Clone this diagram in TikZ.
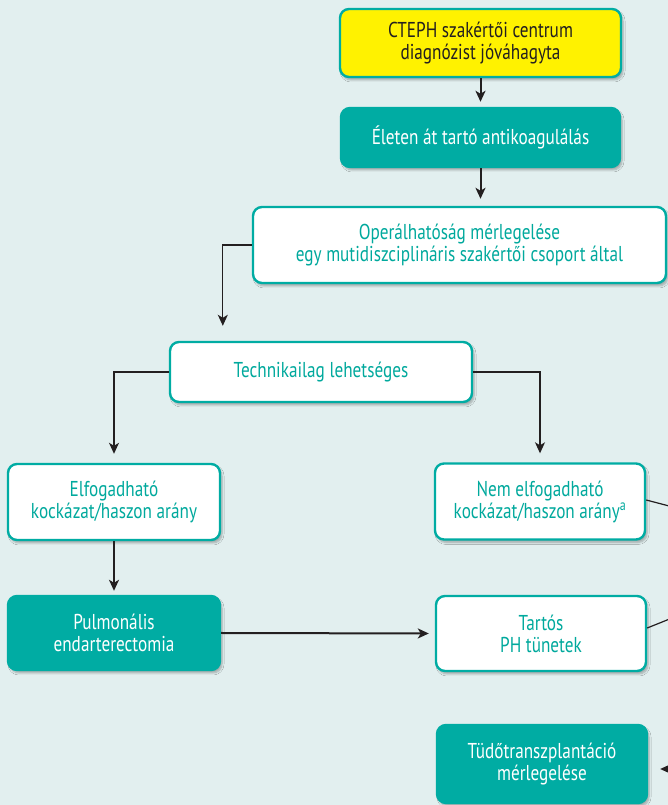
\documentclass[tikz,border=0pt]{standalone}
\usepackage{fontspec}
\setmainfont[FakeStretch=0.8]{PT Sans}
\usetikzlibrary{arrows.meta,shadows.blur}

\definecolor{bgcol}{HTML}{E2EFEF}
\definecolor{boxteal}{HTML}{00ACA3}
\definecolor{tealtext}{HTML}{00A99D}
\definecolor{hlyellow}{HTML}{FFF200}
\definecolor{ink}{HTML}{231F20}

\tikzset{
  x=1pt, y=1pt,
  box/.style={rounded corners=9pt, line width=2.4pt, draw=boxteal, align=center,
    inner sep=0pt, font=\fontsize{21.5}{22}\selectfont,
    blur shadow={shadow xshift=2pt, shadow yshift=-3pt, shadow opacity=30, shadow blur steps=6}},
  openbox/.style={box, fill=white, text=tealtext},
  filledbox/.style={box, fill=boxteal, text=white},
  yellowbox/.style={box, fill=hlyellow, text=ink},
  conn/.style={draw=ink, line width=1.2pt, -{Stealth[length=11pt, width=10pt, inset=3pt]}},
  mainconn/.style={conn, line width=2pt},
  stub/.style={draw=ink, line width=2.6pt},
  exitline/.style={draw=ink, line width=1.2pt},
}

\begin{document}
\begin{tikzpicture}
\fill[bgcol] (0,0) rectangle (668,805);
\useasboundingbox (0,0) rectangle (668,805);

% boxes
\node[yellowbox, minimum width=281, minimum height=68] (cteph) at (480.5,762)
  {CTEPH szakértői centrum\\diagnózist jóváhagyta};
\node[filledbox, minimum width=279, minimum height=59] (elet) at (480.5,667.5)
  {Életen át tartó antikoagulálás};
\node[openbox, minimum width=413, minimum height=76] (oper) at (459.5,560)
  {Operálhatóság mérlegelése\\egy mutidiszciplináris szakértői csoport által};
\node[openbox, minimum width=302, minimum height=60] (tech) at (321,433)
  {Technikailag lehetséges};
\node[openbox, minimum width=212, minimum height=76] (elf) at (114,303)
  {Elfogadható\\kockázat/haszon arány};
\node[openbox, minimum width=210, minimum height=76] (nem) at (540,303.5)
  {Nem elfogadható\\kockázat/haszon arány\textsuperscript{a}};
\node[filledbox, minimum width=212, minimum height=74] (pulm) at (114,172)
  {Pulmonális\\endarterectomia};
\node[openbox, minimum width=210, minimum height=75] (tart) at (541,171.5)
  {Tartós\\PH tünetek};
\node[filledbox, minimum width=210, minimum height=78] (tudo) at (542,41)
  {Tüdőtranszplantáció\\mérlegelése};

% helper points for the first drop and for lines running past the right edge
\coordinate (techin) at ([xshift=54pt]tech.north west);
\coordinate (nemout) at (692,293);
\coordinate (tartout) at (692,195);
\coordinate (tudoin) at (692,36);

% connectors
\draw[mainconn, shorten >=5pt] (cteph.south) -- (elet.north);
\draw[mainconn, shorten >=7pt] (elet.south) -- (elet.south |- oper.north);

\draw[conn, shorten >=15pt] (oper.west) -| (techin);
\draw[stub] (oper.west) -- ++(-16,0);

\draw[conn, shorten >=9pt] (tech.west) -| (elf.north);
\draw[stub] (tech.west) -- ++(-16,0);

\draw[conn, shorten >=9pt] (tech.east) -| (nem.north);
\draw[stub] (tech.east) -- ++(33,0);

\draw[mainconn, line width=2.4pt, shorten >=4pt] (elf.south) -- (pulm.north);
\draw[mainconn, shorten >=6pt] (pulm.east) -- (tart.west);

\draw[exitline] ([yshift=1.5pt]nem.east) -- (nemout);
\draw[exitline] ([yshift=5.5pt]tart.east) -- (tartout);
\draw[conn, shorten >=12pt] (tudoin) -- (tudoin -| tudo.east);
\end{tikzpicture}
\end{document}
